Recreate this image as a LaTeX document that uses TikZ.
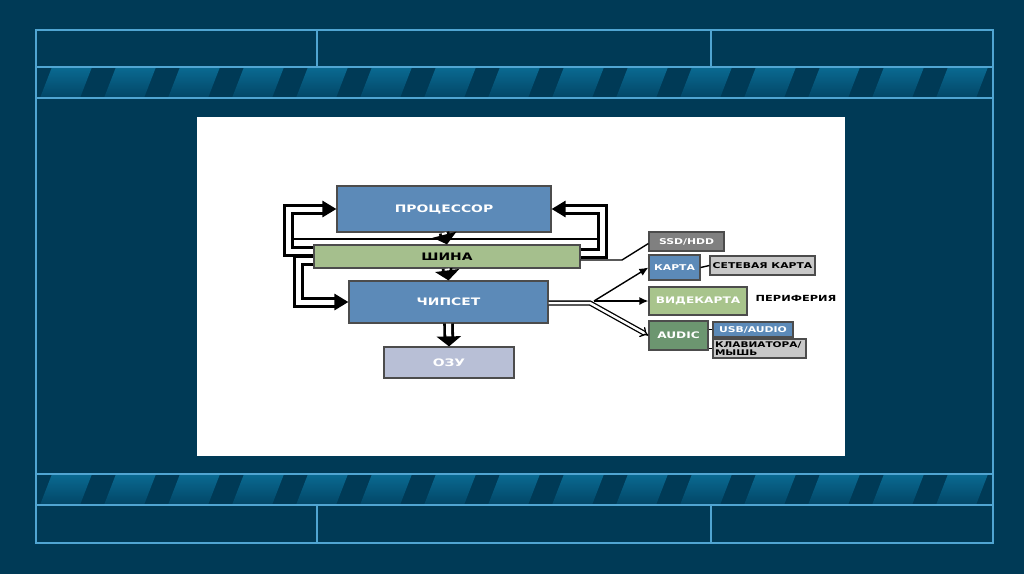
\documentclass[tikz,border=0pt]{standalone}
\usepackage{fontspec}
\newfontfamily\boxfont{DejaVu Sans}[FakeStretch=1.35]
\usetikzlibrary{arrows.meta}
\definecolor{slidebg}{RGB}{0,58,86}
\definecolor{framecol}{RGB}{80,165,210}
\definecolor{stripetop}{RGB}{10,106,146}
\definecolor{stripebot}{RGB}{2,70,102}
\definecolor{unitblue}{RGB}{92,138,184}
\definecolor{busgreen}{RGB}{165,191,141}
\definecolor{ramlilac}{RGB}{184,191,214}
\definecolor{diskgray}{RGB}{128,128,128}
\definecolor{palegray}{RGB}{200,200,200}
\definecolor{videogreen}{RGB}{168,196,140}
\definecolor{audicgreen}{RGB}{108,150,112}
\tikzset{
	unit/.style = {draw=black!70, line width=1.2pt, inner sep=0pt, align=center, text=white, font=\boxfont\bfseries\fontsize{10.3}{11}\selectfont},
	small/.style = {unit, font=\boxfont\bfseries\fontsize{8}{8}\selectfont},
	bluebox/.style = {unit, fill=unitblue},
	busbox/.style = {unit, fill=busgreen, text=black},
	rambox/.style = {unit, fill=ramlilac},
	frameline/.style = {draw=framecol, line width=1.5pt},
	loopline/.style = {double, double distance=5pt, line width=3pt, -{Triangle[length=14pt, width=16pt]}},
	downline/.style = {double, double distance=5pt, line width=2.8pt, -{Triangle[length=10pt, width=24pt]}},
	pairline/.style = {double, double distance=2.5pt, line width=1.3pt},
	wire/.style = {line width=1.4pt},
	arrowline/.style = {wire, -{Latex[length=9pt, width=8pt]}}
}
\begin{document}
\begin{tikzpicture}[x=1pt, y=-1pt]
		% slide background and frame
		\fill[slidebg] (0,0) rectangle (1024,574);
		\useasboundingbox (0,0) rectangle (1024,574);
		\foreach \by in {67,474}{
			\begin{scope}
				\clip (36,\by) rectangle (993,\by+31);
				\foreach \k in {0,...,15}{
					\shade[top color=stripetop, bottom color=stripebot] ({52+64*\k},\by) -- ({92+64*\k},\by) -- ({80+64*\k},\by+31) -- ({40+64*\k},\by+31) -- cycle;
				}
			\end{scope}
		}
		\draw[frameline] (36,30) rectangle (993,543);
		\draw[frameline] (36,67) -- (993,67) (36,98) -- (993,98);
		\draw[frameline] (36,474) -- (993,474) (36,505) -- (993,505);
		\draw[frameline] (317,30) -- (317,67) (711,30) -- (711,67);
		\draw[frameline] (317,505) -- (317,543) (711,505) -- (711,543);
		\fill[white] (197,117) rectangle (845,456);

		% units
		\node [bluebox, minimum width=214pt, minimum height=46pt] (cpu) at (444,209) {ПРОЦЕССОР};
		\node [busbox, minimum width=266pt, minimum height=23pt] (bus) at (447,256.5) {ШИНА};
		\node [bluebox, minimum width=199pt, minimum height=42pt] (chip) at (448.5,302) {ЧИПСЕТ};
		\node [rambox, minimum width=130pt, minimum height=31pt] (ram) at (449,362.5) {ОЗУ};

		% periphery
		\node [small, fill=diskgray, minimum width=75pt, minimum height=19pt] (ssd) at (686.5,241.5) {SSD/HDD};
		\node [small, fill=unitblue, minimum width=51pt, minimum height=25pt] (card) at (674.5,267.5) {КАРТА};
		\node [small, fill=palegray, text=black, minimum width=105pt, minimum height=19pt] (net) at (762.5,265.5) {СЕТЕВАЯ КАРТА};
		\node [small, fill=videogreen, font=\boxfont\bfseries\fontsize{9}{9}\selectfont, minimum width=98pt, minimum height=28pt] (video) at (698,301) {ВИДЕКАРТА};
		\node [small, fill=audicgreen, font=\boxfont\bfseries\fontsize{9}{9}\selectfont, minimum width=59pt, minimum height=29pt] (audic) at (678.5,335.5) {AUDIC};
		\node [small, fill=unitblue, minimum width=80pt, minimum height=15pt] (usb) at (753,329.5) {USB/AUDIO};
		\node [small, fill=palegray, text=black, align=left, inner xsep=2pt, text width=89pt, minimum height=19pt, font=\boxfont\bfseries\fontsize{7.8}{7.6}\selectfont] (kbd) at (759.5,348.5) {КЛАВИАТОРА/\\МЫШЬ};
		\node [font=\boxfont\bfseries\fontsize{8.4}{9}\selectfont] (peri) at (796,298) {ПЕРИФЕРИЯ};

		% bus loops
		\coordinate (lrung) at (293,239);
		\coordinate (rrung) at (597,239);
		\draw[wire] (lrung) -- (rrung);
		\draw[loopline] ([yshift=5pt]bus.west) -| (288,209) -- (cpu.west);
		\draw[loopline] ([yshift=-4pt]bus.west) -| (298,302) -- (chip.west);
		\draw[loopline] ([yshift=3.5pt]bus.east) -| (602,209) -- (cpu.east);
		\draw[downline] (cpu.south) -- (bus.north);
		\draw[downline] (bus.south) -- (chip.north);
		\draw[downline] (chip.south) -- (ram.north);

		% chipset to periphery
		\coordinate (kink) at (622,260);
		\coordinate (fork) at (590,303);
		\coordinate (split) at (594,301);
		\draw[wire] ([yshift=-3.5pt]bus.east) -- (kink) -- ([yshift=-2pt]ssd.west);
		\draw[pairline, -{Implies}] (chip.east |- fork) -- (fork) -- (audic.west);
		\draw[arrowline] (split) -- (card.west);
		\draw[arrowline] (split) -- (video.west);
		\draw[wire] (card.east) -- (net.west);
		\draw[wire] (audic.east |- usb.west) -- (usb.west);
		\draw[wire] (audic.east |- kbd.west) -- (kbd.west);
\end{tikzpicture}
\end{document}
